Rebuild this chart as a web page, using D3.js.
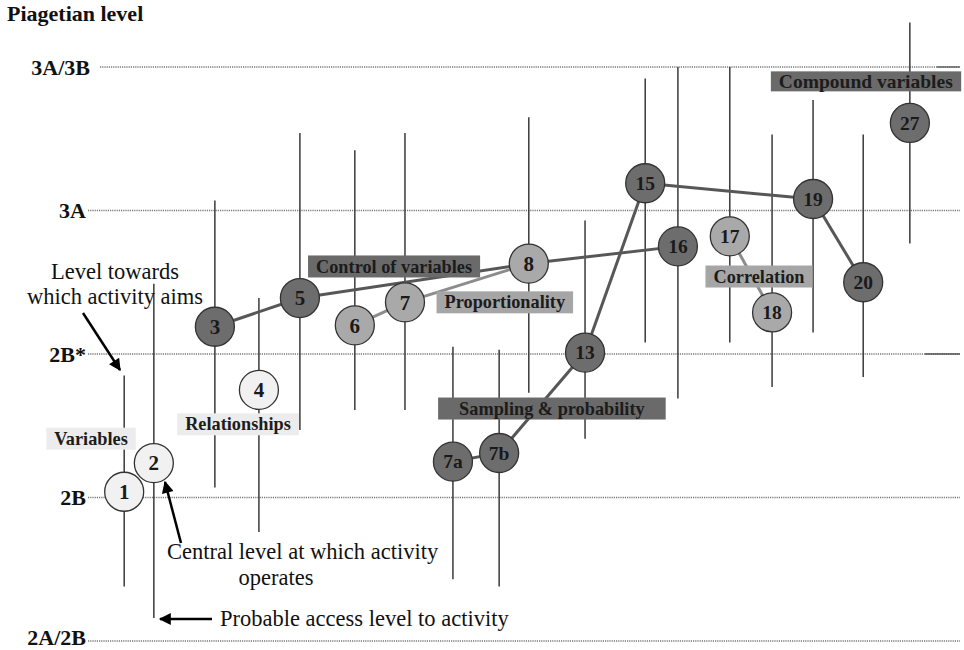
<!DOCTYPE html>
<html>
<head>
<meta charset="utf-8">
<script src="https://cdn.jsdelivr.net/npm/d3@7"></script>
<style>
body{margin:0;background:#fff;}
svg text{font-family:"Liberation Serif","Times New Roman",serif;}
</style>
</head>
<body>
<div id="chart"></div>
<script>
// piagetian levels (bottom to top)
var levelNames=["2A/2B","2B","2B*","3A","3A/3B"];

// activities: horizontal slot, central level, access level (bottom), aim level (top), shade
var acts=["1","2","3","4","5","6","7","7a","7b","8","13","15","16","17","18","19","20","27"];
var actPos=[0.83,1.51,2.91,3.92,4.86,6.12,7.27,8.37,9.43,10.11,11.40,12.78,13.53,14.72,15.69,16.63,17.78,18.85];
var actCentral=[1.04,1.24,2.19,1.75,2.39,2.20,2.36,1.25,1.31,2.63,2.01,3.19,2.75,2.82,2.29,3.08,2.50,3.61];
var actAccess=[0.38,0.16,1.07,0.76,1.47,1.61,1.61,0.43,0.38,1.73,1.41,2.08,1.69,2.08,1.77,2.15,1.84,2.77];
var actAim=[1.85,2.49,3.07,2.39,3.54,3.42,3.54,2.05,2.03,3.65,2.93,3.92,4.0,4.0,3.53,3.77,3.53,4.31];
var actShade=["light","light","dark","light","dark","mid","mid","dark","dark","mid","dark","dark","dark","mid","mid","dark","dark","dark"];

// links between activities in the same strand
var links=[["3","5","dark"],["5","8","dark"],["8","16","dark"],["6","7","mid"],["7","8","mid"],
           ["7a","7b","dark"],["7b","13","dark"],["13","15","dark"],["15","19","dark"],["19","20","dark"],
           ["17","18","mid"]];

// strand labels
var strands=["Variables","Relationships","Control of variables","Proportionality","Sampling & probability","Correlation","Compound variables"];
var strandPos=[0.07,3.44,7.02,9.56,10.64,15.39,17.84];
var strandLevel=[1.41,1.51,2.61,2.36,1.62,2.54,3.90];
var strandShade=["light","light","dark","mid","dark","mid","dark"];

var W=964,H=650;
var fills={light:"#f1f1f1",mid:"#a9a9a9",dark:"#6d6d6d"};
var boxFills={light:"#ececec",mid:"#a6a6a6",dark:"#6a6a6a"};
var linkCol={mid:"#8c8c8c",dark:"#575757"};
var boxPadExtra={"Sampling & probability":13};

var svg=d3.select("#chart").append("svg").attr("width",W).attr("height",H);
var defs=svg.append("defs");
defs.append("marker").attr("id","arr").attr("viewBox","0 0 10 10")
	.attr("refX",9).attr("refY",5).attr("markerWidth",14).attr("markerHeight",12)
	.attr("markerUnits","userSpaceOnUse").attr("orient","auto")
	.append("path").attr("d","M0,0 L10,5 L0,10 z").attr("fill","#000");

var x=d3.scaleLinear().domain([0,20]).range([88,960]);
var y=d3.scaleLinear().domain([0,4]).range([641,67]);

svg.append("text").attr("x",7).attr("y",21).text("Piagetian level")
	.style("font-weight","bold").style("font-size","22px").style("fill","#111");

// level lines
var lv=svg.append("g");
levelNames.forEach(function(n,i){
	lv.append("text").attr("x",i==4?90:86).attr("y",y(i)).attr("dy",i==0?"0.2em":"0.35em")
		.attr("text-anchor","end").text(n)
		.style("font-weight","bold").style("font-size","22px").style("fill","#111");
	lv.append("line").attr("x1",i==4?100:88).attr("x2",960).attr("y1",y(i)).attr("y2",y(i))
		.attr("stroke","#777").attr("stroke-width",1.4).attr("stroke-dasharray","1.2,1");
});
// short solid ends on 2B* and 3A/3B
lv.append("line").attr("x1",925).attr("x2",960).attr("y1",y(2)).attr("y2",y(2))
	.attr("stroke","#555").attr("stroke-width",1.3);
lv.append("line").attr("x1",937).attr("x2",960).attr("y1",y(4)).attr("y2",y(4))
	.attr("stroke","#555").attr("stroke-width",1.3);

var data=acts.map(function(a,i){
	return {id:a,pos:actPos[i],c:actCentral[i],lo:actAccess[i],hi:actAim[i],shade:actShade[i]};
});
var byId={};data.forEach(function(d){byId[d.id]=d;});

// range lines
svg.append("g").selectAll("line").data(data).enter().append("line")
	.attr("x1",function(d){return x(d.pos);}).attr("x2",function(d){return x(d.pos);})
	.attr("y1",function(d){return y(d.lo);}).attr("y2",function(d){return y(d.hi);})
	.attr("stroke","#3a3a3a").attr("stroke-width",1.5);

// strand links
svg.append("g").selectAll("line").data(links).enter().append("line")
	.attr("x1",function(l){return x(byId[l[0]].pos);}).attr("y1",function(l){return y(byId[l[0]].c);})
	.attr("x2",function(l){return x(byId[l[1]].pos);}).attr("y2",function(l){return y(byId[l[1]].c);})
	.attr("stroke",function(l){return linkCol[l[2]];}).attr("stroke-width",3);

// strand label boxes
var sg=svg.append("g");
strands.forEach(function(s,i){
	var g=sg.append("g");
	var t=g.append("text").attr("x",x(strandPos[i])).attr("y",y(strandLevel[i])).attr("dy","0.33em")
		.attr("text-anchor","middle").text(s)
		.style("font-weight","bold").style("font-size",i==6?"19.5px":"18.3px").style("fill","#1c1c1c");
	var b=t.node().getBBox();
	var p=8+(boxPadExtra[s]||0);
	var h=i==6?20:22;
	g.insert("rect","text").attr("x",b.x-p).attr("y",y(strandLevel[i])-h/2)
		.attr("width",b.width+2*p).attr("height",h)
		.attr("fill",boxFills[strandShade[i]]);
});

// activity circles
var cg=svg.append("g").selectAll("g").data(data).enter().append("g")
	.attr("transform",function(d){return "translate("+x(d.pos)+","+y(d.c)+")";});
cg.append("circle").attr("r",19.5)
	.attr("fill",function(d){return fills[d.shade];})
	.attr("stroke","#333").attr("stroke-width",1.3);
cg.append("text").attr("text-anchor","middle").attr("dy","0.35em")
	.text(function(d){return d.id;})
	.style("font-weight","bold").style("font-size",function(d){return d.id.length>1?"19.5px":"21px";})
	.style("fill","#1a1a1a");

// key annotations
var ann=svg.append("g").style("font-size","22.5px").style("fill","#111");
ann.append("text").attr("x",115).attr("y",279).attr("text-anchor","middle").text("Level towards");
ann.append("text").attr("x",115).attr("y",304).attr("text-anchor","middle").text("which activity aims");
ann.append("text").attr("x",167).attr("y",559).text("Central level at which activity");
ann.append("text").attr("x",276).attr("y",585).attr("text-anchor","middle").text("operates");
ann.append("text").attr("x",220).attr("y",626).text("Probable access level to activity");

var arrows=[[83,313,120,370],[181,543,165,482],[212,619,160,619]];
svg.append("g").selectAll("line").data(arrows).enter().append("line")
	.attr("x1",function(a){return a[0];}).attr("y1",function(a){return a[1];})
	.attr("x2",function(a){return a[2];}).attr("y2",function(a){return a[3];})
	.attr("stroke","#000").attr("stroke-width",2.5).attr("marker-end","url(#arr)");
</script>
</body>
</html>
